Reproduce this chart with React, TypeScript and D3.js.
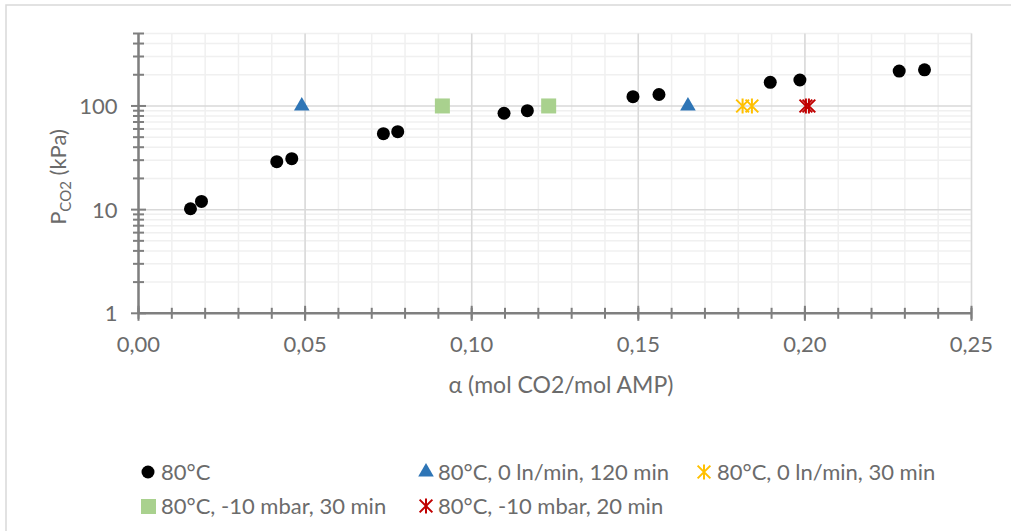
import React from "react";
import * as d3 from "d3";

// 80°C series (black circles)
const alpha80 = [0.0156, 0.0189, 0.0415, 0.046, 0.0735, 0.0778, 0.1097, 0.1167, 0.1484, 0.1562, 0.1896, 0.1985, 0.2283, 0.2359];
const p80 = [10.2, 12.0, 29.0, 31.0, 54, 56.5, 85, 90, 123, 129, 169, 178, 217, 223];
// 80°C, 0 ln/min, 120 min (blue triangles)
const alphaTri = [0.049, 0.1649];
const pTri = [100, 100];
// 80°C, 0 ln/min, 30 min (yellow stars)
const alphaYellow = [0.1813, 0.1841];
const pYellow = [100, 100];
// 80°C, -10 mbar, 30 min (green squares)
const alphaSquare = [0.0912, 0.1231];
const pSquare = [100, 100];
// 80°C, -10 mbar, 20 min (red stars)
const alphaRed = [0.2003, 0.2012];
const pRed = [100, 100];

const xTicks = [0, 0.05, 0.1, 0.15, 0.2, 0.25];
const xTickLabels = ["0,00", "0,05", "0,10", "0,15", "0,20", "0,25"];
const yTicks = [1, 10, 100];
const yTickLabels = ["1", "10", "100"];

const FONT = "Lato, 'Open Sans', sans-serif";
const TEXT = "#6b6b6b";
const AXIS = "#7f7f7f";

const zip = (xs: number[], ys: number[]) => xs.map((x, i) => ({ x, y: ys[i] }));

const starPath = (s: number) => {
  const h = s / 2;
  const d = h * 0.85;
  return `M${-d},${-d}L${d},${d}M${-d},${d}L${d},${-d}M0,${-h}L0,${h}`;
};

const App = () => {
  const x = d3.scaleLinear().domain([0, 0.25]).range([138.5, 971.5]);
  const y = d3.scaleLog().domain([1, 500]).range([313.3, 33.5]);

  const xMinor = d3.range(0, 26).map((i) => i / 100);
  const yMinor: number[] = [];
  [1, 10, 100].forEach((dec) => {
    for (let k = 2; k <= 9; k++) if (dec * k <= 500) yMinor.push(dec * k);
  });

  const tri = d3.symbol(d3.symbolTriangle, 105)() as string;
  const star = starPath(15);

  const [x0, x1] = x.range();
  const [y0, y1] = y.range();

  return (
    <svg width={1011} height={531} style={{ position: "absolute", left: 0, top: 0, fontFamily: FONT }}>
      <rect x={0} y={0} width={1011} height={531} fill="#fff" />
      <rect x={6} y={5} width={1020} height={540} fill="none" stroke="#d9d9d9" strokeWidth={1.5} />

      {/* minor grid */}
      {xMinor.map((v) => (
        <line key={"xm" + v} x1={x(v)} x2={x(v)} y1={y0} y2={y1} stroke="#f0f0f0" strokeWidth={1.5} />
      ))}
      {yMinor.map((v) => (
        <line key={"ym" + v} x1={x0} x2={x1} y1={y(v)} y2={y(v)} stroke="#f0f0f0" strokeWidth={1.5} />
      ))}
      {/* major grid */}
      {xTicks.map((v) => (
        <line key={"xg" + v} x1={x(v)} x2={x(v)} y1={y0} y2={y1} stroke="#d9d9d9" strokeWidth={1.5} />
      ))}
      {yTicks.map((v) => (
        <line key={"yg" + v} x1={x0} x2={x1} y1={y(v)} y2={y(v)} stroke="#d9d9d9" strokeWidth={1.5} />
      ))}

      {/* axes */}
      <line x1={x0} x2={x0} y1={y0} y2={y1} stroke={AXIS} strokeWidth={2.5} />
      <line x1={x0} x2={x1} y1={y0} y2={y0} stroke={AXIS} strokeWidth={2.5} />
      {yMinor.map((v) => (
        <line key={"ytm" + v} x1={x0 - 5.5} x2={x0 + 5.5} y1={y(v)} y2={y(v)} stroke={AXIS} strokeWidth={2} />
      ))}
      {yTicks.map((v) => (
        <line key={"ytM" + v} x1={x0 - 7.5} x2={x0 + 7.5} y1={y(v)} y2={y(v)} stroke={AXIS} strokeWidth={2} />
      ))}
      {xMinor.map((v) => (
        <line key={"xtm" + v} x1={x(v)} x2={x(v)} y1={y0 - 5.5} y2={y0 + 5.5} stroke={AXIS} strokeWidth={2} />
      ))}
      {xTicks.map((v) => (
        <line key={"xtM" + v} x1={x(v)} x2={x(v)} y1={y0 - 7.5} y2={y0 + 7.5} stroke={AXIS} strokeWidth={2} />
      ))}

      {/* tick labels */}
      {xTicks.map((v, i) => (
        <text key={"xl" + v} x={x(v)} y={y0 + 39} textAnchor="middle" fontSize={22} fill={TEXT}>
          {xTickLabels[i]}
        </text>
      ))}
      {yTicks.map((v, i) => (
        <text key={"yl" + v} x={x0 - 21} y={y(v) + 8} textAnchor="end" fontSize={22} fill={TEXT}>
          {yTickLabels[i]}
        </text>
      ))}

      {/* axis titles */}
      <text x={561} y={393} textAnchor="middle" fontSize={23} fill={TEXT}>
        α (mol CO2/mol AMP)
      </text>
      <text transform="translate(66,177) rotate(-90)" textAnchor="middle" fontSize={22} fill={TEXT}>
        <tspan>P</tspan>
        <tspan fontSize={15} dy={5}>CO2</tspan>
        <tspan dy={-5}> (kPa)</tspan>
      </text>

      {/* data */}
      {zip(alpha80, p80).map((d, i) => (
        <circle key={"c" + i} cx={x(d.x)} cy={y(d.y)} r={6.5} fill="#000" />
      ))}
      {zip(alphaTri, pTri).map((d, i) => (
        <path key={"t" + i} d={tri} transform={`translate(${x(d.x)},${y(d.y)})`} fill="#2e75b6" />
      ))}
      {zip(alphaSquare, pSquare).map((d, i) => (
        <rect key={"s" + i} x={x(d.x) - 7.5} y={y(d.y) - 7.5} width={15} height={15} fill="#a9d18e" />
      ))}
      {zip(alphaYellow, pYellow).map((d, i) => (
        <path key={"yw" + i} d={star} transform={`translate(${x(d.x)},${y(d.y)})`} fill="none" stroke="#ffc000" strokeWidth={2} />
      ))}
      {zip(alphaRed, pRed).map((d, i) => (
        <path key={"rd" + i} d={star} transform={`translate(${x(d.x)},${y(d.y)})`} fill="none" stroke="#c00000" strokeWidth={2} />
      ))}

      {/* legend */}
      <g fontSize={22} fill={TEXT}>
        <circle cx={148} cy={472} r={6.5} fill="#000" />
        <text x={161} y={480}>80°C</text>
        <path d={tri} transform="translate(426,472)" fill="#2e75b6" />
        <text x={438} y={480}>80°C, 0 ln/min, 120 min</text>
        <path d={star} transform="translate(704,472)" fill="none" stroke="#ffc000" strokeWidth={2} />
        <text x={717} y={480}>80°C, 0 ln/min, 30 min</text>
        <rect x={141} y={499} width={15} height={15} fill="#a9d18e" />
        <text x={161} y={514}>80°C, -10 mbar, 30 min</text>
        <path d={star} transform="translate(426,506)" fill="none" stroke="#c00000" strokeWidth={2} />
        <text x={438} y={514}>80°C, -10 mbar, 20 min</text>
      </g>
    </svg>
  );
};

export default App;
